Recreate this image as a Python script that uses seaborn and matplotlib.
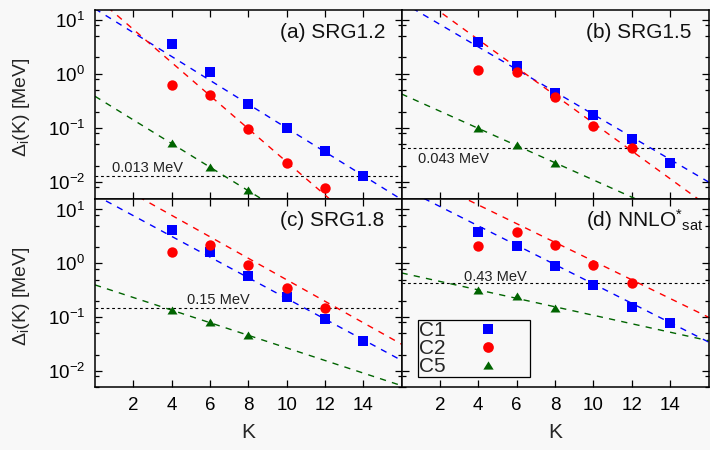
import numpy as np
import pandas as pd
import matplotlib
matplotlib.use("Agg")
import matplotlib.pyplot as plt
import seaborn as sns
from matplotlib.ticker import LogLocator, LogFormatterMathtext, NullFormatter, FixedLocator
from matplotlib.path import Path
from matplotlib.lines import Line2D

# ---------------- data ----------------
K_c1 = [4, 6, 8, 10, 12, 14]
K_c2 = [4, 6, 8, 10, 12]
K_c5 = [4, 6, 8]
K_fit = [0, 16]

panel_titles = ["(a) SRG1.2", "(b) SRG1.5", "(c) SRG1.8", r"(d) NNLO$^{*}{}_{\mathrm{sat}}$"]

c1_a = [3.5, 1.06, 0.28, 0.10, 0.037, 0.013]
c2_a = [0.63, 0.40, 0.094, 0.023, 0.0079]
c5_a = [0.053, 0.019, 0.0072]

c1_b = [3.9, 1.40, 0.44, 0.17, 0.063, 0.023]
c2_b = [1.15, 1.10, 0.38, 0.111, 0.043]
c5_b = [0.10, 0.048, 0.023]

c1_c = [4.2, 1.6, 0.59, 0.235, 0.091, 0.0355]
c2_c = [1.6, 2.2, 0.95, 0.35, 0.147]
c5_c = [0.139, 0.081, 0.047]

c1_d = [3.87, 2.13, 0.91, 0.40, 0.158, 0.078]
c2_d = [2.13, 3.9, 2.19, 0.95, 0.43]
c5_d = [0.32, 0.25, 0.149]

# exponential fit lines: values at K=0 and K=16 for C1, C2, C5
fit_a = [[15.8, 0.0048], [26.9, 0.00035], [0.384, 0.000126]]
fit_b = [[21.2, 0.0101], [45.4, 0.00355], [0.424, 0.00123]]
fit_c = [[18.6, 0.0158], [49.0, 0.0316], [0.398, 0.00537]]
fit_d = [[26.0, 0.0347], [60.3, 0.100], [0.664, 0.0367]]

thresholds = [0.013, 0.043, 0.15, 0.43]
threshold_labels = ["0.013 MeV", "0.043 MeV", "0.15 MeV", "0.43 MeV"]
threshold_label_K = [0.87, 0.86, 4.79, 3.25]
threshold_label_off = [3.0, -10.8, 2.4, 1.7]   # points above/below line

series_names = ["C1", "C2", "C5"]
x_ticks = [2, 4, 6, 8, 10, 12, 14]

# ---------------- style ----------------
BG = "#f8f8f8"
BLUE = "#0000ff"
RED = "#ff0000"
GREEN = "#006400"
colors = [BLUE, RED, GREEN]

sns.set_theme(style="ticks")
plt.rcParams["font.family"] = ["Liberation Sans", "DejaVu Sans"]
plt.rcParams["mathtext.fontset"] = "custom"
plt.rcParams["mathtext.rm"] = "Liberation Sans"
plt.rcParams["mathtext.it"] = "Liberation Sans:italic"
plt.rcParams["mathtext.bf"] = "Liberation Sans:bold"
plt.rcParams["axes.linewidth"] = 1.1
plt.rcParams["axes.edgecolor"] = "black"

tri = Path([(-1, -0.8), (1, -0.8), (0, 0.8), (-1, -0.8)],
           [Path.MOVETO, Path.LINETO, Path.LINETO, Path.CLOSEPOLY])
markers = ["s", "o", tri]
sizes = [56, 56, 52]

fig = plt.figure(figsize=(7.1, 4.5), dpi=100, facecolor=BG)
W, H = 710.0, 450.0
boxes = [
    (95, 10, 401.5, 198.5),
    (401.5, 10, 708.5, 198.5),
    (95, 198.5, 401.5, 387.3),
    (401.5, 198.5, 708.5, 387.3),
]
ylims = [(0.005, 15), (0.005, 15), (0.005, 16), (0.005, 16)]

data = [
    (c1_a, c2_a, c5_a, fit_a),
    (c1_b, c2_b, c5_b, fit_b),
    (c1_c, c2_c, c5_c, fit_c),
    (c1_d, c2_d, c5_d, fit_d),
]

axes = []
for i, (x0, y0, x1, y1) in enumerate(boxes):
    ax = fig.add_axes([x0 / W, 1 - y1 / H, (x1 - x0) / W, (y1 - y0) / H])
    ax.set_facecolor(BG)
    axes.append(ax)
    c1, c2, c5, fits = data[i]

    # fit lines
    for j, f in enumerate(fits):
        df = pd.DataFrame({"K": K_fit, "v": f})
        sns.lineplot(data=df, x="K", y="v", ax=ax, color=colors[j], lw=1.0,
                     dashes=False, linestyle=(0, (4.5, 4.5)), zorder=2)

    # threshold
    ax.axhline(thresholds[i], color="black", lw=0.8, linestyle=(0, (2.5, 2.5)), zorder=1)
    ax.annotate(threshold_labels[i], xy=(threshold_label_K[i], thresholds[i]),
                xytext=(0, threshold_label_off[i]), textcoords="offset points",
                ha="left", va="baseline", fontsize=10.5, color="#222222")

    # points
    for j, (kk, vv) in enumerate(zip([K_c1, K_c2, K_c5], [c1, c2, c5])):
        df = pd.DataFrame({"K": kk, "v": vv})
        sns.scatterplot(data=df, x="K", y="v", ax=ax, marker=markers[j], s=sizes[j],
                        color=colors[j], linewidth=0, zorder=3, legend=False)

    ax.set_yscale("log")
    ax.set_xlim(0, 16)
    ax.set_ylim(*ylims[i])
    ax.xaxis.set_major_locator(FixedLocator(x_ticks))
    ax.yaxis.set_major_locator(LogLocator(base=10, numticks=10))
    ax.yaxis.set_minor_locator(LogLocator(base=10, subs=[2, 5, 8], numticks=10))
    ax.yaxis.set_minor_formatter(NullFormatter())
    ax.yaxis.set_major_formatter(LogFormatterMathtext())
    ax.tick_params(which="both", direction="in", top=True, right=True,
                   labelsize=13.5, pad=7, color="black", labelcolor="black")
    ax.tick_params(which="major", length=5, width=0.9)
    ax.tick_params(which="minor", length=2.6, width=0.9)
    ax.set_xlabel("")
    ax.set_ylabel("")
    if i < 2:
        ax.tick_params(labelbottom=False)
    if i % 2 == 1:
        ax.tick_params(labelleft=False)
    for sp in ax.spines.values():
        sp.set_visible(True)
        sp.set_color("black")
        sp.set_linewidth(1.1)

    ax.text(0.602, 0.852, panel_titles[i], transform=ax.transAxes, ha="left",
            va="baseline", fontsize=15, color="#111111", zorder=5)

# axis labels
ylab = r"$\mathit{\Delta}_{\mathrm{i}}$(K) [MeV]"
fig.text(22 / W, 1 - 106.7 / H, ylab, rotation=90, ha="center", va="center", fontsize=14)
fig.text(22 / W, 1 - 296.5 / H, ylab, rotation=90, ha="center", va="center", fontsize=14)
fig.text(248.3 / W, 1 - 432.5 / H, "K", ha="center", va="center", fontsize=15)
fig.text(555 / W, 1 - 432.5 / H, "K", ha="center", va="center", fontsize=15)

# legend in panel (d)
handles = [Line2D([], [], linestyle="none", marker=markers[j], markersize=[7.7, 7.7, 7.4][j],
                  markerfacecolor=colors[j], markeredgewidth=0, color=colors[j])
           for j in range(3)]
leg = axes[3].legend(handles, series_names, loc="lower left", bbox_to_anchor=(0.053, 0.055),
                     borderaxespad=0, markerfirst=False, fontsize=15, handletextpad=0.1,
                     handlelength=3.9, borderpad=0.05, labelspacing=-0.05, frameon=True,
                     fancybox=False, framealpha=1, facecolor=BG, edgecolor="black")
leg.get_frame().set_linewidth(0.9)

fig.savefig("out.png", dpi=100, facecolor=BG)
